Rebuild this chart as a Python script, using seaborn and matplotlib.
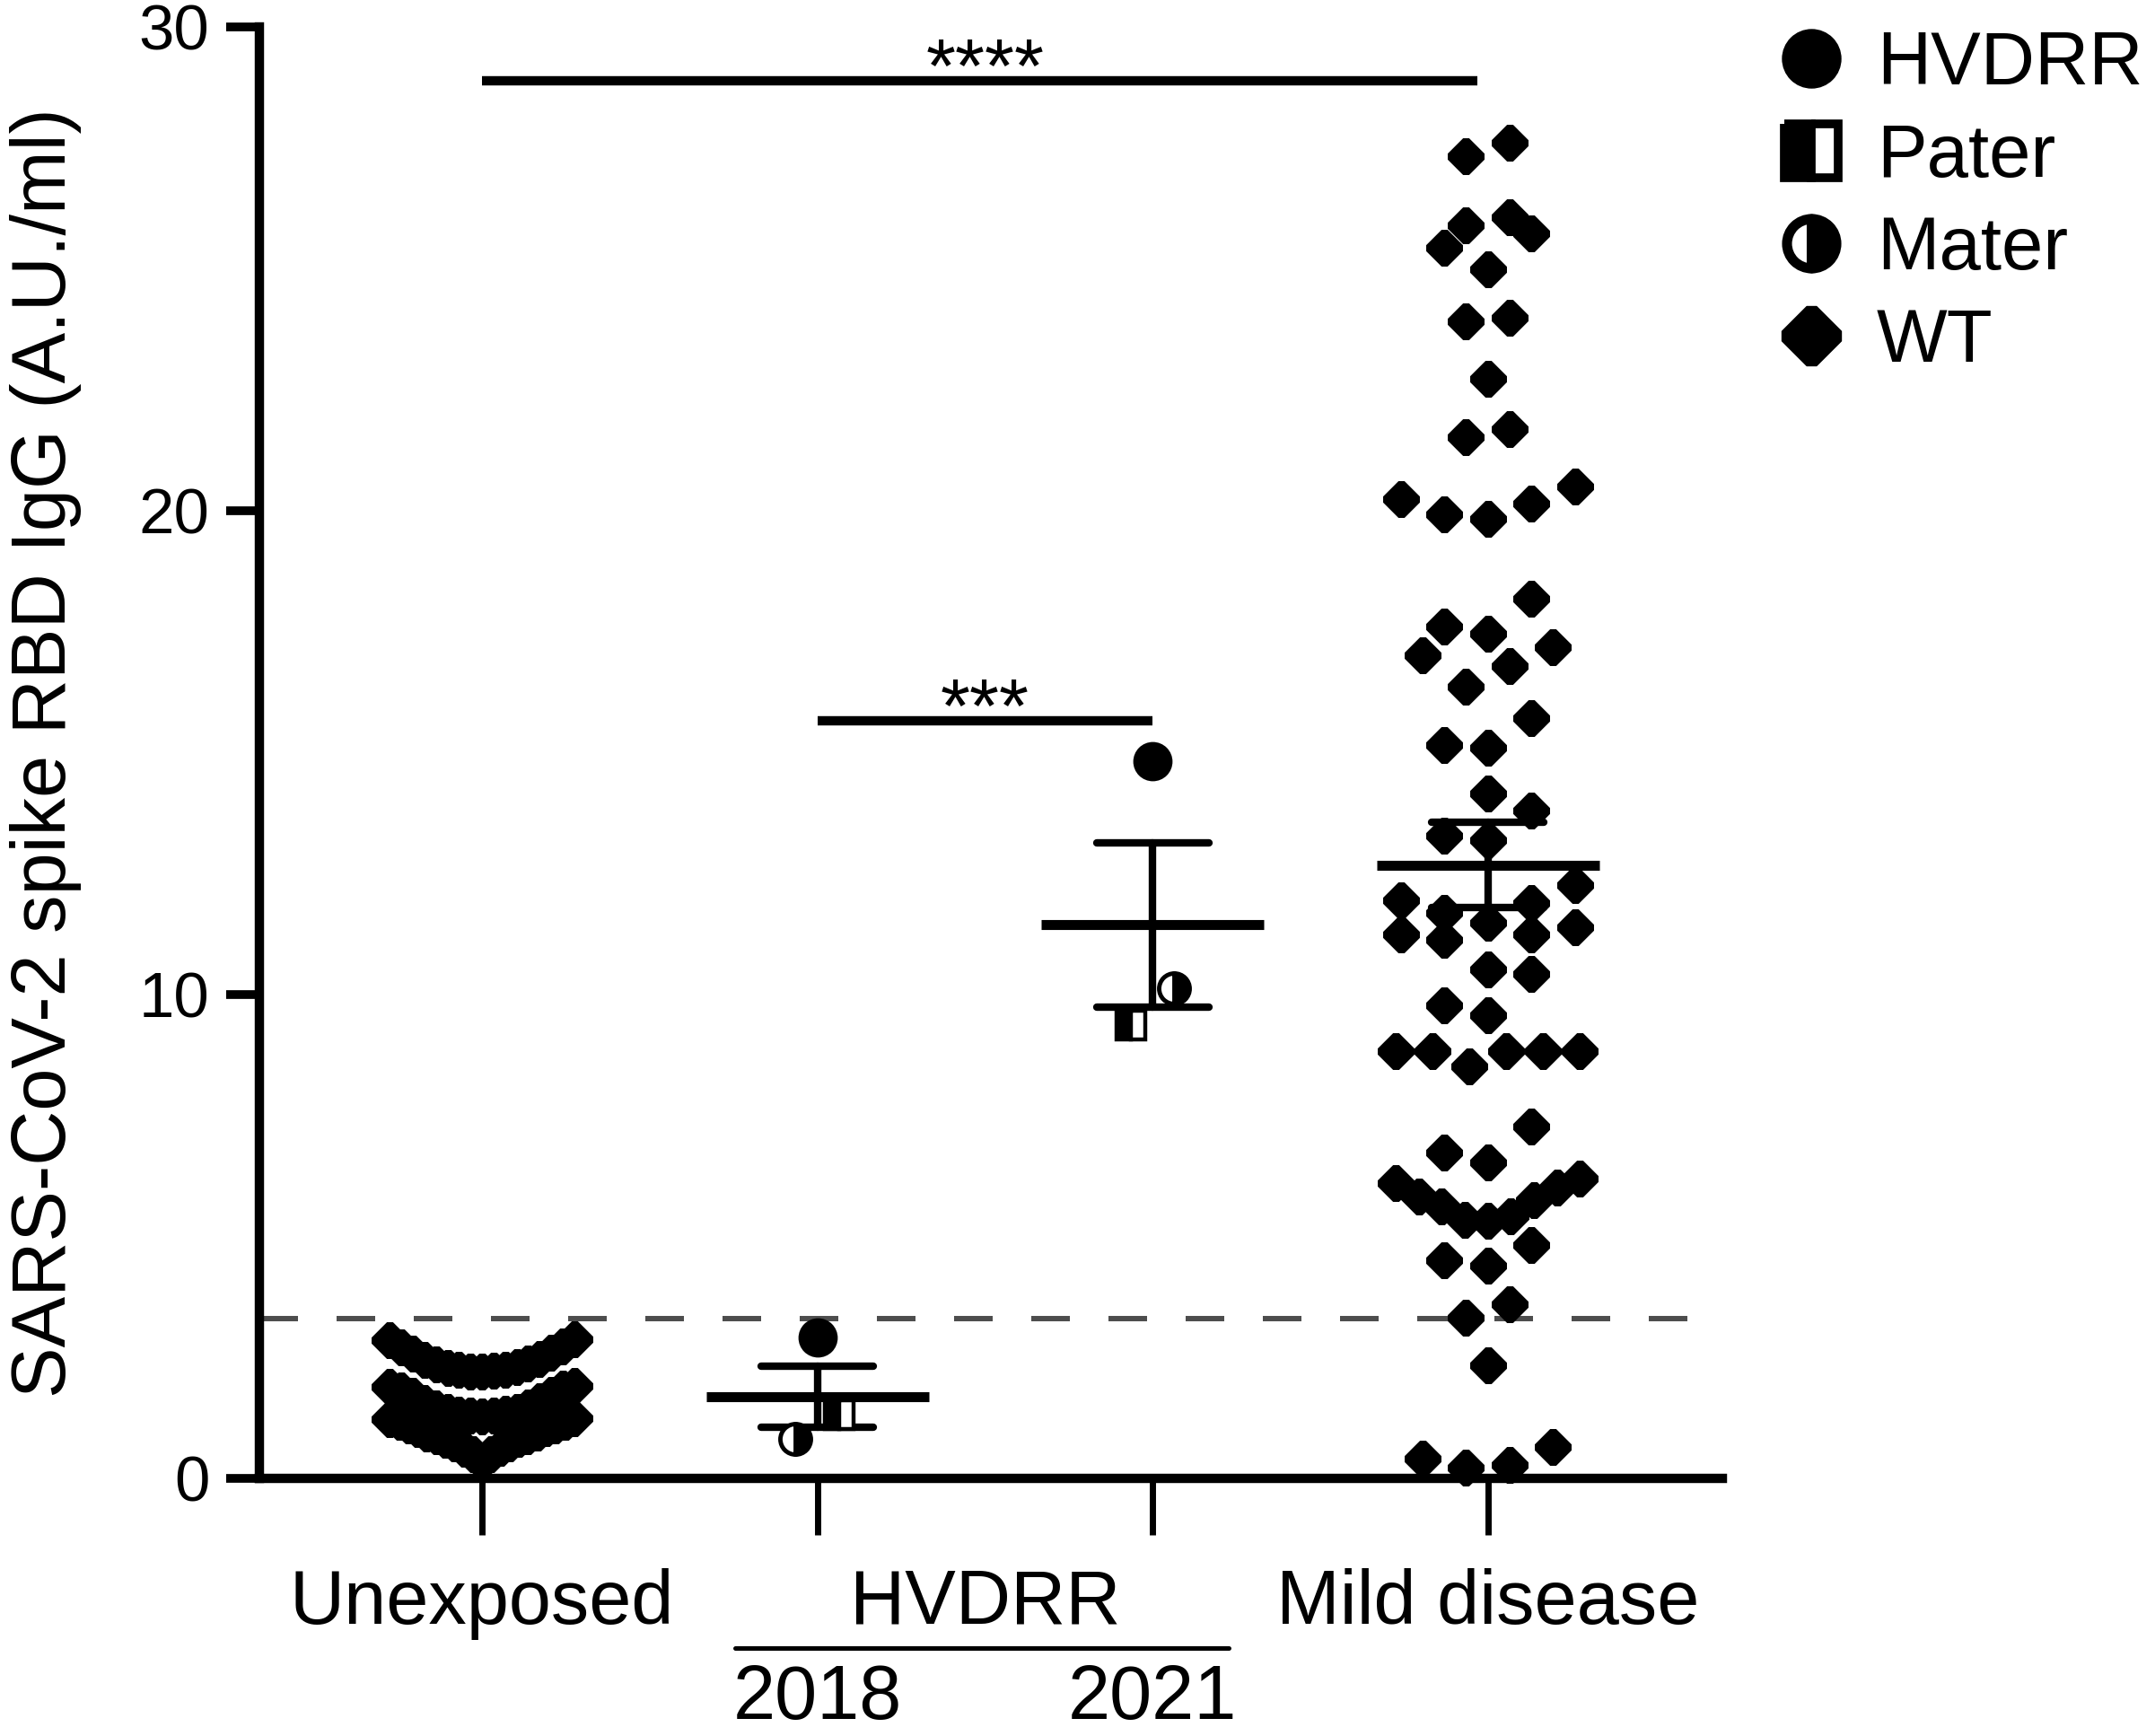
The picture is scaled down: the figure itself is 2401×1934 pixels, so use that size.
import numpy as np
import pandas as pd
import matplotlib
matplotlib.use("Agg")
import matplotlib.pyplot as plt
import seaborn as sns
from matplotlib.path import Path
from matplotlib.lines import Line2D

sns.set_style("ticks")
plt.rcParams["font.family"] = ["Liberation Sans", "DejaVu Sans"]
for key in ["text.color", "axes.labelcolor", "xtick.color", "ytick.color", "axes.edgecolor"]:
    plt.rcParams[key] = "black"

# ---------------- data ----------------
groups = ["Unexposed", "HVDRR 2018", "HVDRR 2021", "Mild disease"]

unexposed_wt = [0.36, 0.50, 0.51, 0.62, 0.63, 0.72, 0.73, 0.80, 0.81, 0.87, 0.88,
                0.93, 0.94, 1.02, 1.03, 1.09, 1.10, 1.16, 1.17, 1.23, 1.24,
                1.28, 1.29, 1.30, 1.32, 1.33, 1.37, 1.38, 1.44, 1.46, 1.56, 1.59,
                1.71, 1.73, 1.82, 1.85, 1.89, 1.91,
                2.20, 2.21, 2.22, 2.24, 2.25, 2.29, 2.30, 2.36, 2.37, 2.45, 2.47,
                2.57, 2.59, 2.71, 2.73, 2.86, 2.88]

family_kinds = ["HVDRR", "Pater", "Mater"]
hvdrr_2018 = [2.92, 1.31, 0.82]
hvdrr_2021 = [14.82, 9.37, 10.13]

mild_wt = [27.60, 27.32, 26.07, 25.90, 25.73, 25.43, 24.99, 23.99, 23.91, 22.72,
           21.69, 21.53, 20.50, 20.25, 20.14, 19.93, 19.83, 18.19, 17.60, 17.45,
           17.18, 17.02, 16.79, 16.37, 15.71, 15.16, 15.11, 14.15, 13.81, 13.29,
           13.19, 12.26, 11.94, 11.89, 11.68, 11.48, 11.39, 11.25, 11.25, 11.14,
           10.51, 10.43, 9.78, 9.58, 8.83, 8.83, 8.83, 8.83, 8.83, 8.52,
           7.27, 6.73, 6.53, 6.20, 6.10, 6.01, 5.82, 5.76, 5.63, 5.42,
           5.35, 5.32, 4.83, 4.51, 4.40, 3.59, 3.33, 2.33, 0.64, 0.41,
           0.28, 0.22]

threshold = 3.3
sig_bars = [(0, 2.97, 28.89, "****"), (1, 2, 15.66, "***")]
x_tick_labels = ["Unexposed", "", "", "Mild disease"]
hvdrr_label = "HVDRR"
year_labels = ["2018", "2021"]
y_ticks = [0, 10, 20, 30]
ylabel = "SARS-CoV-2 spike RBD IgG (A.U./ml)"


# ---------------- layout helper (GraphPad-like scatter rows) ----------------
def row_offsets(values, row_h=0.9, step_max=0.13, span=0.55):
    vals = np.asarray(values, dtype=float)
    order = np.argsort(vals, kind="stable")
    v = vals[order]
    offs = np.zeros(len(v))
    i = 0
    while i < len(v):
        j = i
        while j + 1 < len(v) and v[j + 1] - v[i] <= row_h + 1e-9:
            j += 1
        n = j - i + 1
        step = step_max if n == 1 else min(step_max, span / (n - 1))
        for k in range(n):
            if n % 2:
                slot = ((k + 1) // 2) * (-1 if k % 2 else 1)
            else:
                slot = (k // 2 + 0.5) * (-1 if k % 2 == 0 else 1)
            offs[i + k] = slot * step
        i = j + 1
    out = np.empty(len(v))
    out[order] = offs
    return out


rows = []
for gi, (vals, kinds) in enumerate([
        (unexposed_wt, ["WT"] * len(unexposed_wt)),
        (hvdrr_2018, family_kinds),
        (hvdrr_2021, family_kinds),
        (mild_wt, ["WT"] * len(mild_wt))]):
    offs = row_offsets(vals)
    for v, k, o in zip(vals, kinds, offs):
        rows.append({"group": groups[gi], "pos": gi, "x": gi + o, "value": v, "kind": k})
df = pd.DataFrame(rows)

# ---------------- figure ----------------
fig = plt.figure(figsize=(24.01, 19.34), dpi=100)
ax = fig.add_axes([0.1204, 0.1484, 0.6789, 0.8361])

# diamond with slightly blunted corners
t = 0.07
diamond = Path([(-t, 0.5 - t), (t, 0.5 - t), (0.5 - t, t), (0.5 - t, -t),
                (t, -0.5 + t), (-t, -0.5 + t), (-0.5 + t, -t), (-0.5 + t, t),
                (-t, 0.5 - t)], closed=True)

ax.axhline(threshold, color="#4d4d4d", lw=4.3, linestyle=(0, (7.2, 7.2)), zorder=1)

wt = df[df["kind"] == "WT"]
sns.scatterplot(data=wt, x="x", y="value", marker=diamond, s=29.5 ** 2,
                color="black", linewidth=0, legend=False, ax=ax, clip_on=False, zorder=3)

hv = df[df["kind"] == "HVDRR"]
sns.scatterplot(data=hv, x="x", y="value", marker="o", s=31.5 ** 2,
                color="black", linewidth=0, legend=False, ax=ax, clip_on=False, zorder=3)

for _, r in df[df["kind"] == "Pater"].iterrows():
    ax.plot([r["x"]], [r["value"]], marker="s", ms=22.7, fillstyle="left",
            mfc="black", markerfacecoloralt="white", mec="black", mew=3.2,
            ls="none", clip_on=False, zorder=3)
for _, r in df[df["kind"] == "Mater"].iterrows():
    ax.plot([r["x"]], [r["value"]], marker="o", ms=24.5, fillstyle="right",
            mfc="black", markerfacecoloralt="white", mec="black", mew=3.5,
            ls="none", clip_on=False, zorder=3)

# mean +/- SEM
stats = df[df["pos"] > 0]
sns.pointplot(data=stats, x="pos", y="value", native_scale=True, errorbar="se",
              capsize=0.335, linestyle="none", marker="_", markersize=179,
              markeredgewidth=8, color="black", err_kws={"linewidth": 6}, ax=ax)

# significance bars
for x0, x1, y, lab in sig_bars:
    ax.plot([x0, x1], [y, y], color="black", lw=7.5, solid_capstyle="butt", clip_on=False)
    ax.text(1.5, y - 0.25, lab, ha="center", va="baseline", fontsize=61)

# axes styling
ax.set_xlim(-0.664, 3.70)
ax.set_ylim(0, 30)
ax.spines[["top", "right"]].set_visible(False)
for s in ["left", "bottom"]:
    ax.spines[s].set_linewidth(7.5)
    ax.spines[s].set_color("black")
ax.set_xticks(range(len(groups)), x_tick_labels)
ax.set_xticks([1.5], [hvdrr_label], minor=True)
ax.tick_params(axis="x", which="major", length=45, width=5, pad=27, labelsize=61, colors="black")
ax.tick_params(axis="x", which="minor", length=0, pad=27 + 45, labelsize=61, colors="black")
ax.set_yticks(y_ticks)
ax.tick_params(axis="y", length=27, width=7, pad=13, labelsize=51, colors="black")
ax.set_xlabel("")
ax.set_ylabel(ylabel, fontsize=61, labelpad=46, color="black")

# HVDRR bracket with years
ax.plot([0.755, 2.228], [-3.51, -3.51], color="black", lw=3.6, clip_on=False)
for i, yr in enumerate(year_labels):
    ax.text(1 + i, -4.98, yr, ha="center", va="baseline", fontsize=61, clip_on=False)

# legend
handles = [
    Line2D([], [], marker="o", ls="none", color="black", ms=46.8),
    Line2D([], [], marker="s", ls="none", mfc="black", markerfacecoloralt="white",
           fillstyle="left", mec="black", mew=7, ms=42.5),
    Line2D([], [], marker="o", ls="none", mfc="black", markerfacecoloralt="white",
           fillstyle="right", mec="black", mew=8, ms=39.6),
    Line2D([], [], marker=diamond, ls="none", color="black", ms=47.5),
]
fig.legend(handles, ["HVDRR", "Pater", "Mater", "WT"], loc="upper left",
           bbox_to_anchor=(0.8232, 0.9827), bbox_transform=fig.transFigure,
           frameon=False, fontsize=60, handlelength=1.0, handletextpad=0.37,
           labelspacing=0.3, borderpad=0, borderaxespad=0, numpoints=1)

fig.savefig("out.png", dpi=100)
